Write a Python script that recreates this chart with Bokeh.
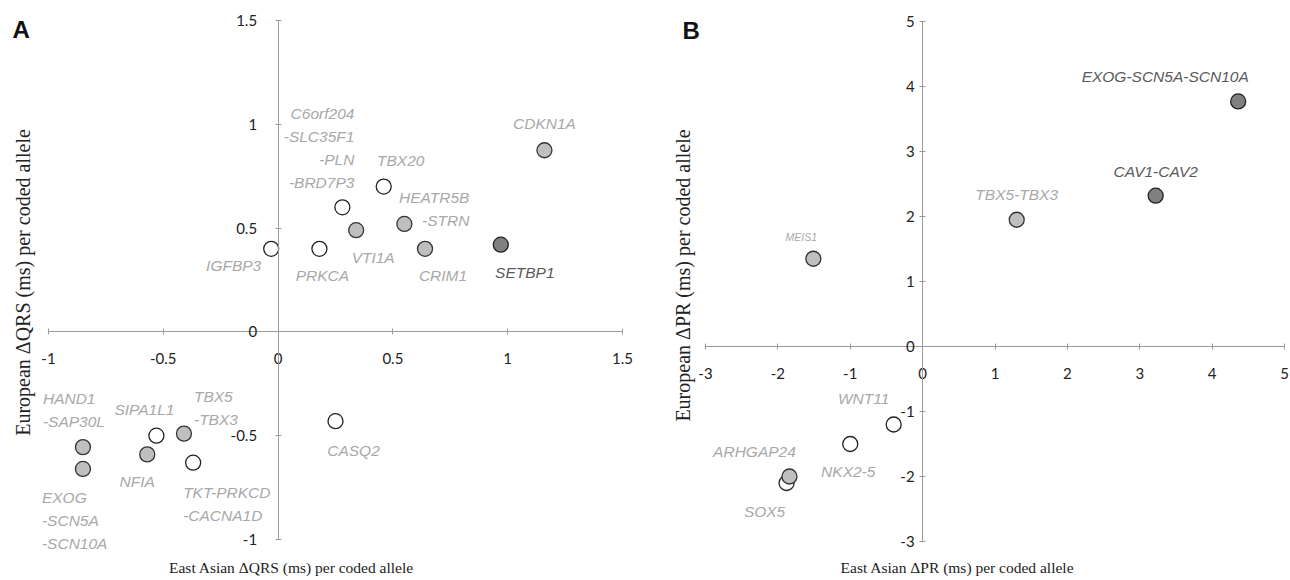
import math
from bokeh.plotting import figure
from bokeh.models import ColumnDataSource, LinearAxis, FixedTicker, Label, Range1d
from bokeh.layouts import row
from bokeh.embed import file_html
from bokeh.resources import INLINE
from bokeh.core.properties import value

# ---------------- Panel A data (QRS) ----------------
a_genes = ["IGFBP3", "PRKCA", "C6orf204\n-SLC35F1\n-PLN\n-BRD7P3", "TBX20", "CASQ2",
           "SIPA1L1", "TKT-PRKCD\n-CACNA1D",
           "VTI1A", "HEATR5B\n-STRN", "CRIM1", "CDKN1A", "HAND1\n-SAP30L",
           "EXOG\n-SCN5A\n-SCN10A", "NFIA", "TBX5\n-TBX3",
           "SETBP1"]
a_east_asian = [-0.03, 0.18, 0.28, 0.46, 0.25, -0.53, -0.37,
                0.34, 0.55, 0.64, 1.16, -0.85, -0.85, -0.57, -0.41, 0.97]
a_european = [0.40, 0.40, 0.60, 0.70, -0.43, -0.50, -0.63,
              0.49, 0.52, 0.40, 0.875, -0.555, -0.66, -0.59, -0.49, 0.42]
a_group = ["open"] * 7 + ["light"] * 8 + ["dark"]

a_ticks = [-1, -0.5, 0, 0.5, 1, 1.5]
a_tick_labels = ["-1", "-0.5", "0", "0.5", "1", "1.5"]

# ---------------- Panel B data (PR) ----------------
b_genes = ["SOX5", "WNT11", "NKX2-5", "ARHGAP24", "MEIS1", "TBX5-TBX3",
           "CAV1-CAV2", "EXOG-SCN5A-SCN10A"]
b_east_asian = [-1.88, -0.40, -1.00, -1.84, -1.51, 1.30, 3.22, 4.36]
b_european = [-2.10, -1.20, -1.50, -2.00, 1.35, 1.95, 2.32, 3.77]
b_group = ["open", "open", "open", "light", "light", "light", "dark", "dark"]

b_ticks = [-3, -2, -1, 0, 1, 2, 3, 4, 5]
b_tick_labels = ["-3", "-2", "-1", "0", "1", "2", "3", "4", "5"]

# ---------------- label layout (screen offsets of first line, px) ----------------
a_lab_dx = [-10, 3, 12, 17, 18, -12, -10, 17, 65, 18, 0, -40, -41, -10, 10, 24]
a_lab_dy = [17, 27, -94, -26, 29, -26, 30, 27, -26, 27, -27, -49, 29, 27, -37, 28]
a_lab_align = ["right", "center", "right", "center", "center", "center", "left",
               "center", "right", "center", "center", "left", "left", "center", "left",
               "center"]

b_lab_dx = [-22, -30, -2, -35, -12, 0, 0, -73]
b_lab_dy = [28, -26, 27, -25, -22, -25, -24, -25]
b_lab_size = ["15.5px", "15.5px", "15.5px", "15.5px", "10.5px", "15.5px", "15.5px", "15.5px"]

LINE_STEP = 23

FILL = {"open": "white", "light": "#bfbfbf", "dark": "#808080"}
LINE = {"open": "#222222", "light": "#333333", "dark": "#222222"}
LABC = {"open": "#a8a8a8", "light": "#a8a8a8", "dark": "#5a5a5a"}

TICK_FONT = "Lato"
GENE_FONT = "Liberation Sans"
TITLE_FONT = "Liberation Serif"


def style_axis(ax, labels, ticks, standoff, bounds):
    ax.ticker = FixedTicker(ticks=ticks)
    ax.bounds = bounds
    ax.major_label_overrides = {t: l for t, l in zip(ticks, labels)}
    ax.axis_line_color = "#9a9a9a"
    ax.axis_line_width = 1
    ax.major_tick_line_color = "#9a9a9a"
    ax.major_tick_in = 3
    ax.major_tick_out = 3
    ax.minor_tick_line_color = None
    ax.major_label_text_font = TICK_FONT
    ax.major_label_text_font_size = "15px"
    ax.major_label_text_color = "#222222"
    ax.major_label_standoff = standoff


def pixel_range(v0, v1, p0, p1, total):
    # values v0 at pixel p0 and v1 at pixel p1 within a frame of size total
    scale = (v1 - v0) / (p1 - p0)
    return Range1d(v0 - p0 * scale, v1 + (total - p1) * scale)


def make_panel(width, height, xb, yb, xpix, ypix, xs, ys, groups, genes, dx, dy,
               align, sizes, ticks_x, labs_x, ticks_y, labs_y, xtitle, ytitle,
               letter, letter_xy, xtitle_xy, ytitle_xy, ystand, xstand):
    xr = pixel_range(xb[0], xb[1], xpix[0], xpix[1], width)
    # y pixel measured from bottom
    yr = pixel_range(yb[0], yb[1], height - ypix[1], height - ypix[0], height)
    p = figure(width=width, height=height, x_range=xr, y_range=yr,
               output_backend="svg", toolbar_location=None,
               x_axis_location=None, y_axis_location=None,
               min_border=0)
    p.grid.visible = False
    p.outline_line_color = None
    p.background_fill_color = "white"
    p.border_fill_color = "white"

    xa = LinearAxis(fixed_location=0)
    ya = LinearAxis(fixed_location=0)
    style_axis(xa, labs_x, ticks_x, xstand, xb)
    style_axis(ya, labs_y, ticks_y, ystand, yb)
    p.add_layout(xa, "below")
    p.add_layout(ya, "left")

    src = ColumnDataSource(dict(
        x=xs, y=ys,
        fill=[FILL[g] for g in groups], line=[LINE[g] for g in groups]))
    p.scatter("x", "y", source=src, size=15, fill_color="fill", line_color="line",
              line_width=1.3)

    # one text row per label line
    lx, ly, lt, ldx, ldy, lal, lc, ls = [], [], [], [], [], [], [], []
    for i, g in enumerate(genes):
        for j, part in enumerate(g.split("\n")):
            lx.append(xs[i]); ly.append(ys[i]); lt.append(part)
            ldx.append(dx[i]); ldy.append(dy[i] + LINE_STEP * j)
            lal.append(align[i]); lc.append(LABC[groups[i]]); ls.append(sizes[i])
    tsrc = ColumnDataSource(dict(x=lx, y=ly, t=lt, dx=ldx, dy=ldy, al=lal, c=lc, s=ls))
    p.text("x", "y", text="t", source=tsrc, x_offset="dx", y_offset="dy",
           text_align="al", text_baseline="middle", text_color="c",
           text_font=value(GENE_FONT), text_font_style="italic",
           text_font_size="s")

    p.add_layout(Label(x=xtitle_xy[0], y=height - xtitle_xy[1], x_units="screen",
                       y_units="screen", text=xtitle, text_font=TITLE_FONT,
                       text_font_size="15.5px", text_align="center",
                       text_baseline="middle", text_color="#222222"))
    p.add_layout(Label(x=ytitle_xy[0], y=height - ytitle_xy[1], x_units="screen",
                       y_units="screen", text=ytitle, text_font=TITLE_FONT,
                       text_font_size="20px", text_align="center", angle=math.pi / 2,
                       text_baseline="middle", text_color="#222222"))
    p.add_layout(Label(x=letter_xy[0], y=height - letter_xy[1], x_units="screen",
                       y_units="screen", text=letter, text_font="Liberation Sans",
                       text_font_style="bold", text_font_size="24px",
                       text_baseline="middle", text_color="#111111"))
    return p


pA = make_panel(658, 580, (-1, 1.5), (-1, 1.5), (48, 622), (20, 539),
                a_east_asian, a_european, a_group, a_genes, a_lab_dx, a_lab_dy,
                a_lab_align, ["15.5px"] * len(a_genes),
                a_ticks, a_tick_labels, a_ticks, a_tick_labels,
                "East Asian \u0394QRS (ms) per coded allele",
                "European \u0394QRS (ms) per coded allele",
                "A", (12, 29), (291, 567), (22, 282), 18, 18)

pB = make_panel(632, 580, (-3, 5), (-3, 5), (47, 626), (21, 541),
                b_east_asian, b_european, b_group, b_genes, b_lab_dx, b_lab_dy,
                ["center"] * len(b_genes), b_lab_size,
                b_ticks, b_tick_labels, b_ticks, b_tick_labels,
                "East Asian \u0394PR (ms) per coded allele",
                "European \u0394PR (ms) per coded allele",
                "B", (24, 30), (299, 567), (24, 275), 5, 18)

layout = row(pA, pB)
open("out.html", "w").write(file_html(layout, INLINE))
